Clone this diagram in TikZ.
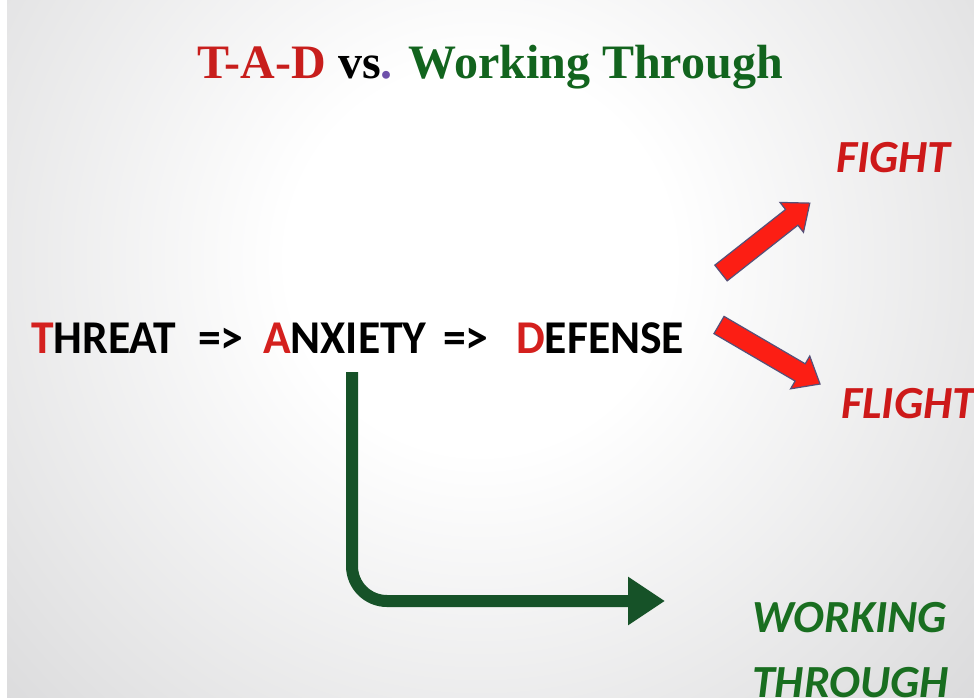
\documentclass[tikz,border=0pt]{standalone}
\usepackage{fontspec}
\setmainfont{Liberation Serif}
\newfontfamily\calib[FakeStretch=0.97]{Carlito}
\newfontfamily\calibwide{Carlito}
\newfontfamily\titlef{Liberation Serif}
\usetikzlibrary{arrows.meta}
\definecolor{tred}{RGB}{200,30,28}
\definecolor{tgreen}{RGB}{18,100,30}
\definecolor{tpurple}{RGB}{110,80,170}
\definecolor{mred}{RGB}{212,32,30}
\definecolor{fred}{RGB}{205,25,25}
\definecolor{wgreen}{RGB}{25,110,32}
\definecolor{agreen}{RGB}{22,82,40}
\definecolor{ared}{RGB}{252,30,20}
\definecolor{aborder}{RGB}{85,80,120}
\definecolor{bggray}{RGB}{196,196,198}
\definecolor{bggray2}{RGB}{180,180,182}
\pgfdeclareradialshading{bgshade}{\pgfpoint{0bp}{0bp}}{%
  color(0bp)=(white); color(4bp)=(white); color(20bp)=(bggray); color(30bp)=(bggray2); color(50bp)=(bggray2)}
\tikzset{
  titletext/.style={inner sep=0pt, anchor=base west, font=\titlef\bfseries\fontsize{48}{48}\selectfont},
  maintext/.style={inner sep=0pt, anchor=base west, font=\calib\bfseries\fontsize{47}{47}\selectfont, text=black},
  outtext/.style={inner sep=0pt, anchor=base west, font=\calibwide\bfseries\itshape\fontsize{46}{46}\selectfont},
  redarr/.style={fill=ared, draw=aborder, line width=1.2pt, line join=miter},
  greenarr/.style={draw=agreen, line width=12pt, rounded corners=35pt, -{Triangle[length=37pt,width=46pt]}}
}
\begin{document}
\begin{tikzpicture}[x=1pt,y=-1pt]
\useasboundingbox (0,0) rectangle (974,698);
\begin{scope}
\clip (0,0) rectangle (974,698);
\shade[shading=bgshade] (480,260) circle (1200);
\fill[white] (0,0) rectangle (7,698);
\end{scope}

\node[titletext] (title) at (197,79) {{\color{tred}T-A-D} vs{\color{tpurple}.} {\color{tgreen}Working Through}};

\node[maintext] (threat) at (31,353) {{\color{mred}T}HREAT};
\node[maintext] (arr1) at (198,353) {=>};
\node[maintext] (anxiety) at (263,353) {{\color{mred}A}NXIETY};
\node[maintext] (arr2) at (443,353) {=>};
\node[maintext] (defense) at (516,353) {{\color{mred}D}EFENSE};

\node[outtext, text=fred] (fight) at (836,172) {FIGHT};
\node[outtext, text=fred] (flight) at (841,418) {FLIGHT};
\node[outtext, text=wgreen] (working) at (752,632) {WORKING};
\node[outtext, text=wgreen] (through) at (752,697) {THROUGH};

% red arrows
\coordinate (fighttail) at (721,273);
\coordinate (flighttail) at (719,325);
\begin{scope}[shift={(fighttail)}, rotate=38.2]
\path[redarr] (0,-10) -- (90,-10) -- (90,-19) -- (113,0) -- (90,19) -- (90,10) -- (0,10) -- cycle;
\end{scope}
\begin{scope}[shift={(flighttail)}, rotate=-30.3]
\path[redarr] (0,-10) -- (94,-10) -- (94,-19) -- (117,0) -- (94,19) -- (94,10) -- (0,10) -- cycle;
\end{scope}

% green arrow
\coordinate (wtstart) at (352,372);
\coordinate (wtend) at (665,601);
\draw[greenarr] (wtstart) |- (wtend);
\end{tikzpicture}
\end{document}
